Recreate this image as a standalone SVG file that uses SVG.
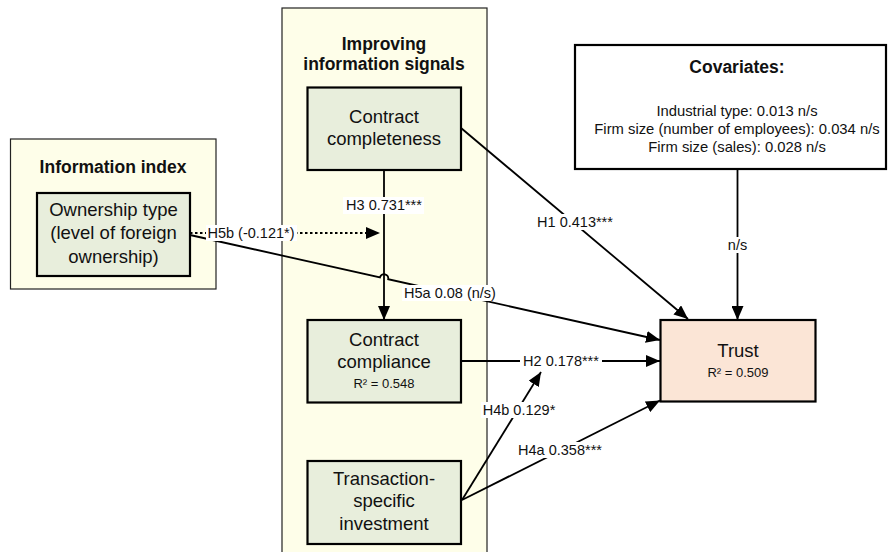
<svg xmlns="http://www.w3.org/2000/svg" width="888" height="552" viewBox="0 0 888 552">
<style>
text{font-family:"Liberation Sans",Arial,sans-serif;fill:#111;text-anchor:middle}
.grp{fill:#fefee9;stroke:#222;stroke-width:1.2}
.node{fill:#e8eedc;stroke:#000;stroke-width:2.2}
.head{font-size:17.5px;font-weight:bold}
.nt{font-size:18.5px}
.r2{font-size:13px}
.lbl{font-size:14.5px}
.cov{font-size:14.8px}
.bg{fill:#fff}
.ln{fill:none;stroke:#000;stroke-width:1.8}
</style>
<defs>
<marker id="ah" markerUnits="userSpaceOnUse" markerWidth="14" markerHeight="12" viewBox="0 0 14 12" refX="14" refY="6" orient="auto">
<path d="M0,0 L14,6 L0,12 z" fill="#000"/>
</marker>
</defs>
<rect width="888" height="552" fill="#fff"/>

<g id="group-information-index">
<rect class="grp" x="10.5" y="139" width="205.5" height="150"/>
<text class="head" x="113" y="173">Information index</text>
</g>
<g id="group-improving">
<rect class="grp" x="282" y="8" width="205" height="560"/>
<text class="head" x="384" y="50">Improving</text>
<text class="head" x="384" y="70">information signals</text>
</g>

<g id="connectors">
<path class="ln" d="M384,170 L384,320" marker-end="url(#ah)"/>
<path class="ln" d="M190,233 L380,233" stroke-dasharray="2.5,2.5" stroke-width="1.4" marker-end="url(#ah)"/>
<path class="ln" d="M190,235 L380,277.4 A4.2,4.2 0 0 1 388.2,279.2 L660,340" marker-end="url(#ah)"/>
<path class="ln" d="M461,128 L688,319" marker-end="url(#ah)"/>
<path class="ln" d="M461,361 L660,361" marker-end="url(#ah)"/>
<path class="ln" d="M462,500 L541,372" marker-end="url(#ah)"/>
<path class="ln" d="M462,500 L660,400.5" marker-end="url(#ah)"/>
<path class="ln" d="M737.5,169 L737.5,320" marker-end="url(#ah)"/>

<rect class="bg" x="343" y="197" width="81" height="17"/>
<text class="lbl" x="384" y="210">H3 0.731***</text>
<rect class="bg" x="206" y="225" width="91" height="16"/>
<text class="lbl" x="251" y="238">H5b (-0.121*)</text>
<rect class="bg" x="402" y="285" width="97" height="16"/>
<text class="lbl" x="450" y="298">H5a 0.08 (n/s)</text>
<rect class="bg" x="534" y="214" width="82" height="16"/>
<text class="lbl" x="575" y="227">H1 0.413***</text>
<rect class="bg" x="520" y="353" width="82" height="16"/>
<text class="lbl" x="561" y="366">H2 0.178***</text>
<rect class="bg" x="481" y="402" width="76" height="16"/>
<text class="lbl" x="519" y="415">H4b 0.129*</text>
<rect class="bg" x="516" y="442" width="88" height="16"/>
<text class="lbl" x="560" y="455">H4a 0.358***</text>
<rect class="bg" x="726" y="237" width="23" height="16"/>
<text class="lbl" x="737.5" y="250">n/s</text>
</g>

<g id="node-ownership">
<rect class="node" x="37" y="193" width="153" height="83"/>
<text class="nt" x="113.5" y="216">Ownership type</text>
<text class="nt" x="113.5" y="239">(level of foreign</text>
<text class="nt" x="113.5" y="263">ownership)</text>
</g>
<g id="node-completeness">
<rect class="node" x="307.5" y="87.5" width="153.5" height="82.5"/>
<text class="nt" x="384" y="123">Contract</text>
<text class="nt" x="384" y="145">completeness</text>
</g>
<g id="node-compliance">
<rect class="node" x="307.5" y="320" width="153.5" height="82.5"/>
<text class="nt" x="384" y="346">Contract</text>
<text class="nt" x="384" y="368">compliance</text>
<text class="r2" x="384" y="388">R² = 0.548</text>
</g>
<g id="node-tsi">
<rect class="node" x="307.5" y="461" width="153.5" height="83"/>
<text class="nt" x="384" y="485">Transaction-</text>
<text class="nt" x="384" y="507">specific</text>
<text class="nt" x="384" y="530">investment</text>
</g>
<g id="node-trust">
<rect x="660.5" y="320" width="155" height="81.5" fill="#fbe5d6" stroke="#000" stroke-width="2.2"/>
<text class="nt" x="738" y="357">Trust</text>
<text class="r2" x="738" y="377">R² = 0.509</text>
</g>
<g id="node-covariates">
<rect x="575" y="45" width="311" height="124" fill="#fff" stroke="#000" stroke-width="2.2"/>
<text class="head" x="737" y="73">Covariates:</text>
<text class="cov" x="737" y="116">Industrial type: 0.013 n/s</text>
<text class="cov" x="737" y="134">Firm size (number of employees): 0.034 n/s</text>
<text class="cov" x="737" y="152">Firm size (sales): 0.028 n/s</text>
</g>
</svg>
